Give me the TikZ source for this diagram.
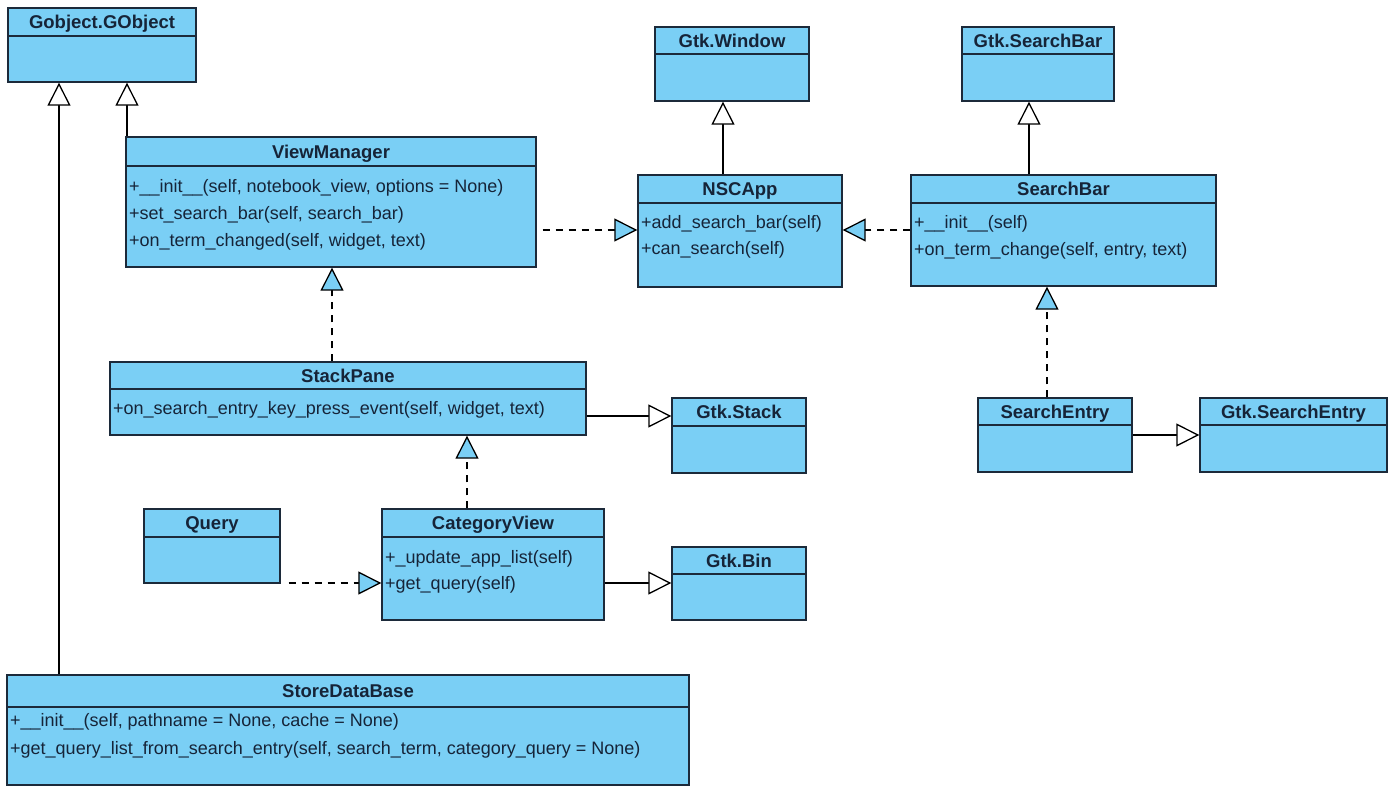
\documentclass[tikz,border=0pt]{standalone}
\usepackage{fontspec}
\setmainfont{Liberation Sans}
\usetikzlibrary{arrows.meta,fit}

\definecolor{clsfill}{RGB}{122,207,245}
\definecolor{clsline}{RGB}{28,42,58}
\definecolor{clstext}{RGB}{22,36,56}

\tikzset{
  clsbox/.style={draw=clsline, fill=clsfill, line width=1.4pt, inner sep=0pt},
  divider/.style={draw=clsline, line width=1.4pt},
  clstitle/.style={font=\fontsize{18.5}{20}\selectfont\bfseries, text=clstext,
    inner sep=0pt, anchor=base},
  member/.style={font=\fontsize{18}{20}\selectfont, text=clstext,
    inner sep=0pt, anchor=base west},
  gen/.style={draw=black, line width=1.3pt,
    -{Triangle[length=23pt, width=23pt, line width=1.3pt, fill=white]}},
  real/.style={draw=black, line width=1.3pt, dash pattern=on 7pt off 6pt,
    -{Triangle[length=23pt, width=23pt, line width=1.3pt, fill=clsfill]}},
}

% #1 name, #2 left, #3 top, #4 right, #5 bottom, #6 divider, #7 title
\newcommand\umlclass[7]{%
  \node[clsbox, fit={(#2,#3) (#4,#5)}] (#1) {};
  \draw[divider] (#2,#6) -- (#4,#6);
  \node[clstitle] (#1-title) at ({(#2+#4)/2},{(#3+#6)/2+6.5}) {#7};
}
% #1 name, #2 left, #3 centre line, #4 text
\newcommand\umlmember[4]{%
  \node[member] (#1) at ({#2+3},{#3+6.5}) {#4};
}

\begin{document}
\begin{tikzpicture}[x=1pt, y=-1pt]
  \useasboundingbox (0,0) rectangle (1392,787);

  % classes
  \umlclass{gobj}{8}{8}{196}{82}{36}{Gobject.GObject}
  \umlclass{win}{655}{27}{809}{101}{54}{Gtk.Window}
  \umlclass{gsb}{962}{27}{1114}{101}{54}{Gtk.SearchBar}

  \umlclass{vm}{126}{137}{536}{267}{166}{ViewManager}
  \umlmember{vm-m1}{126}{186}{+\_\_init\_\_(self, notebook\_view, options = None)}
  \umlmember{vm-m2}{126}{213}{+set\_search\_bar(self, search\_bar)}
  \umlmember{vm-m3}{126}{240}{+on\_term\_changed(self, widget, text)}

  \umlclass{nsc}{638}{175}{842}{287}{203}{NSCApp}
  \umlmember{nsc-m1}{638}{222}{+add\_search\_bar(self)}
  \umlmember{nsc-m2}{638}{248}{+can\_search(self)}

  \umlclass{sb}{911}{175}{1216}{286}{203}{SearchBar}
  \umlmember{sb-m1}{911}{222}{+\_\_init\_\_(self)}
  \umlmember{sb-m2}{911}{249}{+on\_term\_change(self, entry, text)}

  \umlclass{sp}{110}{362}{586}{435}{389}{StackPane}
  \umlmember{sp-m1}{110}{408}{+on\_search\_entry\_key\_press\_event(self, widget, text)}

  \umlclass{gstack}{672}{398}{806}{473}{426}{Gtk.Stack}
  \umlclass{se}{978}{398}{1132}{472}{425}{SearchEntry}
  \umlclass{gse}{1200}{398}{1387}{472}{425}{Gtk.SearchEntry}

  \umlclass{query}{144}{509}{280}{583}{537}{Query}
  \umlclass{cv}{382}{509}{604}{620}{537}{CategoryView}
  \umlmember{cv-m1}{382}{557}{+\_update\_app\_list(self)}
  \umlmember{cv-m2}{382}{583}{+get\_query(self)}
  \umlclass{gbin}{672}{547}{806}{620}{574}{Gtk.Bin}

  \umlclass{sdb}{7}{675}{689}{785}{707}{StoreDataBase}
  \umlmember{sdb-m1}{7}{720}{+\_\_init\_\_(self, pathname = None, cache = None)}
  \umlmember{sdb-m2}{7}{748}{+get\_query\_list\_from\_search\_entry(self, search\_term, category\_query = None)}

  % connector lanes
  \coordinate (lane-sdb) at (59,0);
  \coordinate (lane-vm) at (127,0);
  \coordinate (lane-nsc) at (723,0);
  \coordinate (lane-sb) at (1029,0);
  \coordinate (lane-top) at (0,230);
  \coordinate (lane-sp) at (332,0);
  \coordinate (lane-stack) at (0,416);
  \coordinate (lane-cv) at (467,0);
  \coordinate (lane-bin) at (0,583);
  \coordinate (lane-se) at (1047,0);
  \coordinate (lane-gse) at (0,435);

  % generalisations
  \draw[gen] (sdb.north -| lane-sdb) -- (gobj.south -| lane-sdb);
  \draw[gen] (vm.north -| lane-vm) -- (gobj.south -| lane-vm);
  \draw[gen] (nsc.north -| lane-nsc) -- (win.south -| lane-nsc);
  \draw[gen] (sb.north -| lane-sb) -- (gsb.south -| lane-sb);
  \draw[gen] (sp.east |- lane-stack) -- (gstack.west |- lane-stack);
  \draw[gen] (cv.east |- lane-bin) -- (gbin.west |- lane-bin);
  \draw[gen] (se.east |- lane-gse) -- (gse.west |- lane-gse);

  % realisations
  \draw[real] ([xshift=6pt]vm.east |- lane-top) -- (nsc.west |- lane-top);
  \draw[real] (sb.west |- lane-top) -- (nsc.east |- lane-top);
  \draw[real] (sp.north -| lane-sp) -- (vm.south -| lane-sp);
  \draw[real] (cv.north -| lane-cv) -- (sp.south -| lane-cv);
  \draw[real] ([xshift=8pt]query.east |- lane-bin) -- (cv.west |- lane-bin);
  \draw[real] (se.north -| lane-se) -- (sb.south -| lane-se);
\end{tikzpicture}
\end{document}
